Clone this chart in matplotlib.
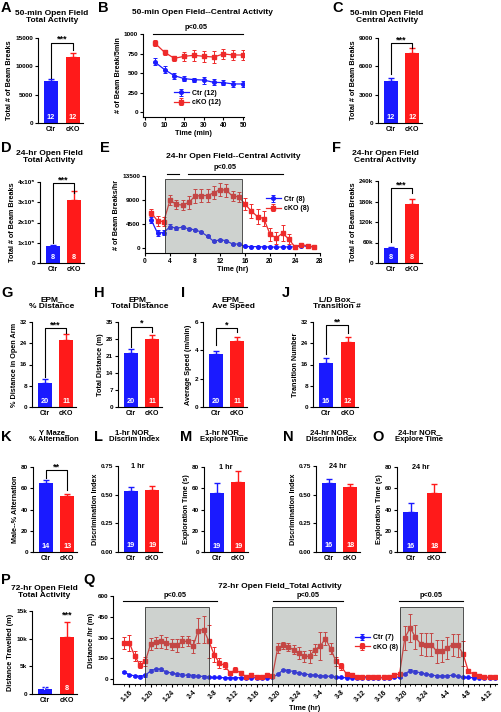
import numpy as np
import matplotlib
matplotlib.use('Agg')
import matplotlib.pyplot as plt
from matplotlib.patches import Rectangle

# ---------------- data ----------------
groups = ['Ctr', 'cKO']

A_mean = [7350, 11650]; A_sem = [470, 760]; A_n = [12, 12]
C_mean = [4450, 7410]; C_sem = [350, 560]; C_n = [12, 12]
D_mean = [85000, 313000]; D_sem = [4500, 42000]; D_n = [8, 8]
F_mean = [43500, 172000]; F_sem = [3000, 16500]; F_n = [8, 8]
G_mean = [9.2, 25.1]; G_sem = [1.25, 2.3]; G_n = [20, 11]
H_mean = [22.4, 27.9]; H_sem = [1.4, 1.8]; H_n = [20, 11]
I_mean = [3.74, 4.67]; I_sem = [0.24, 0.26]; I_n = [20, 11]
J_mean = [16.7, 24.5]; J_sem = [1.7, 1.8]; J_n = [16, 12]
K_mean = [64.9, 52.7]; K_sem = [2.5, 2.2]; K_n = [14, 13]
L_mean = [0.535, 0.54]; L_sem = [0.035, 0.032]; L_n = [19, 19]
M_mean = [56.0, 66.0]; M_sem = [8.7, 10.3]; M_n = [19, 19]
N_mean = [0.604, 0.563]; N_sem = [0.032, 0.032]; N_n = [16, 18]
O_mean = [38.0, 56.0]; O_sem = [7.8, 7.8]; O_n = [16, 18]
P_mean = [960, 10340]; P_sem = [250, 2700]; P_n = [7, 8]

B_time = [5, 10, 15, 20, 25, 30, 35, 40, 45, 50]
B_ctr = [643, 545, 468, 430, 417, 412, 383, 379, 362, 362]
B_ctr_sem = [45, 45, 40, 35, 25, 45, 40, 35, 35, 40]
B_cko = [885, 766, 689, 715, 728, 715, 706, 745, 732, 732]
B_cko_sem = [40, 30, 30, 60, 70, 70, 80, 60, 70, 70]

E_time = [1, 2, 3, 4, 5, 6, 7, 8, 9, 10, 11, 12, 13, 14, 15, 16, 17, 18, 19, 20,
          21, 22, 23, 24, 25, 26, 27]
E_ctr = [5260, 2800, 2900, 4000, 3700, 3900, 3600, 3400, 3000, 2200, 1240, 1550, 1360,
         740, 740, 310, 250, 250, 200, 200, 150, 200, 200, 200, 430, 300, 200]
E_ctr_sem = [600, 500, 400, 500, 300, 250, 200, 200, 200, 200, 200, 150, 150, 100, 100,
             80, 80, 80, 80, 80, 80, 80, 80, 80, 100, 80, 60]
E_cko = [6620, 5080, 4950, 8980, 8170, 8050, 8540, 9720, 9840, 9840, 10340, 10960, 10830,
         9720, 9600, 8230, 6930, 5880, 5510, 2600, 1860, 2790, 1670, 190, 620, 430, 190]
E_cko_sem = [600, 900, 900, 1000, 900, 1000, 1200, 1300, 1200, 1200, 1200, 1200, 1200,
             1000, 900, 1100, 1300, 1400, 1400, 1200, 1100, 1500, 1000, 300, 400, 300, 200]

Q_time = list(range(15, 86))
Q_cko = [261, 261, 165, 104, 128,
         254, 266, 273, 261, 249, 244, 273, 273, 237, 351, 358, 273,
         177, 116, 99, 44, 68, 44, 19, 31, 19, 19, 27, 24,
         225, 244, 230, 213, 189, 165, 165, 213, 237, 293, 220, 128,
         92, 36, 31, 19, 19, 19, 12, 12, 12, 12, 31, 36,
         298, 370, 303, 254, 249, 249, 201, 201, 225, 249, 244, 182,
         56, 36, 24, 19, 12, 12]
Q_cko_sem = [45, 55, 35, 25, 30,
             45, 40, 45, 45, 40, 45, 40, 35, 45, 90, 100, 120,
             55, 38, 25, 12, 18, 12, 8, 10, 8, 8, 10, 8,
             35, 25, 30, 35, 40, 40, 45, 40, 100, 50, 40, 30,
             25, 12, 10, 8, 8, 6, 6, 6, 6, 6, 10, 10,
             85, 100, 85, 80, 85, 85, 85, 80, 80, 80, 85, 90,
             15, 10, 8, 6, 6, 6]
Q_ctr = [51, 31, 24, 19, 27,
         60, 72, 70, 52, 44, 36, 31, 27, 24, 22, 19, 15,
         12, 12, 10, 10, 10, 10, 10, 10, 10, 10, 10, 12,
         35, 65, 62, 55, 45, 38, 32, 28, 24, 22, 20, 15,
         12, 10, 10, 10, 10, 10, 10, 10, 10, 10, 12, 15,
         38, 62, 55, 45, 38, 30, 24, 22, 24, 28, 20, 15,
         12, 10, 10, 10, 10, 10]
Q_ctr_sem = [8] * 5 + [10] * 12 + [4] * 12 + [8] * 12 + [4] * 12 + [8] * 12 + [4] * 6
Q_ticks = [16, 20, 24, 28, 32, 36, 40, 44, 48, 52, 56, 60, 64, 68, 72, 76, 80, 84]
Q_ticklabels = ['1-16', '1-20', '1-24', '2-4', '2-8', '2-12', '2-16', '2-20', '2-24',
                '3-4', '3-8', '3-12', '3-16', '3-20', '3-24', '4-4', '4-8', '4-12']

# ---------------- style ----------------
plt.rcParams['font.family'] = ['Liberation Sans', 'DejaVu Sans']
plt.rcParams['font.weight'] = 'bold'
plt.rcParams['axes.labelweight'] = 'bold'
plt.rcParams['axes.linewidth'] = 0.8

W, H = 501, 712
fig = plt.figure(figsize=(W / 100, H / 100), dpi=100)

BLUE = '#1a1aff'
RED = '#ff1a1a'
LRED = '#ee2a2a'
YT = 4.6
XT = 5.0
YL = 5.2
TT = 6.0


def add_ax(l, t, r, b):
    ax = fig.add_axes([l / W, 1 - b / H, (r - l) / W, (b - t) / H])
    for s in ['top', 'right']:
        ax.spines[s].set_visible(False)
    ax.tick_params(length=2.3, width=0.8, pad=1.2, labelsize=YT)
    return ax


def ftext(x, y, s, **kw):
    fig.text(x / W, 1 - y / H, s, **kw)


def title(x, y, s, size=TT):
    ftext(x, y, s, ha='center', va='center', fontsize=size, fontweight='bold', linespacing=1.1)


def letter(x, y, s):
    ftext(x, y, s, ha='left', va='top', fontsize=10.5, fontweight='bold')


def bar_panel(rect, means, sems, ns, ymax, yticks, yticklabels, ylabel,
              sig=None, stars=None, note=None, note_x=0.5):
    ax = add_ax(*rect)
    x = np.arange(len(groups))
    cols = [BLUE, RED]
    ax.bar(x, means, width=0.64, color=cols, zorder=2)
    for xi, m, e, c in zip(x, means, sems, cols):
        ax.errorbar(xi, m, yerr=[[0], [e]], color=c, capsize=2.4, elinewidth=1.0,
                    capthick=1.0, zorder=1)
    ax.set_xlim(-0.58, 1.45)
    ax.set_ylim(0, ymax)
    ax.set_yticks(yticks)
    ax.set_yticklabels(yticklabels)
    ax.set_xticks(x)
    ax.set_xticklabels(groups, fontsize=XT)
    ax.tick_params(axis='x', length=0, pad=2)
    ax.set_ylabel(ylabel, fontsize=YL, labelpad=1.5)
    for xi, n in zip(x, ns):
        ax.text(xi, 0.07, str(n), transform=ax.get_xaxis_transform(), color='white',
                ha='center', va='center', fontsize=5.3, fontweight='bold', zorder=3)
    if sig is not None:
        yb, yl, yr = sig
        ax.plot([0, 0, 1, 1], [yl, yb, yb, yr], color='k', lw=0.8, clip_on=False)
        ax.text(0.5, yb + ymax * 0.01, stars, ha='center', va='baseline', fontsize=6.5,
                fontweight='bold', clip_on=False)
    if note is not None:
        ax.text(note_x, 0.99, note, transform=ax.transAxes, ha='center', va='center',
                fontsize=5.2, fontweight='bold')
    return ax


# ---------------- row 1 ----------------
letter(1, 1, 'A')
title(52, 17, '50-min Open Field\nTotal Activity')
bar_panel((38, 38, 83, 123), A_mean, A_sem, A_n, 15000, [0, 5000, 10000, 15000],
          ['0', '5000', '10000', '15000'], 'Total # of Beam Breaks',
          sig=(14170, 7950, 12900), stars='***')

letter(98, 1, 'B')
title(202, 12, '50-min Open Field--Central Activity')
axB = add_ax(143, 34, 244, 117)
axB.errorbar(B_time, B_ctr, yerr=B_ctr_sem, color=BLUE, marker='o', ms=2.6, lw=0.9,
             capsize=1.4, elinewidth=0.7, capthick=0.7, label='Ctr (12)')
axB.errorbar(B_time, B_cko, yerr=B_cko_sem, color=LRED, marker='s', ms=2.6, lw=0.9,
             capsize=1.4, elinewidth=0.7, capthick=0.7, label='cKO (12)')
axB.set_xlim(-1, 50.5)
axB.set_ylim(-60, 1000)
axB.set_yticks([0, 250, 500, 750, 1000])
axB.set_xticks([0, 10, 20, 30, 40, 50])
axB.tick_params(axis='x', labelsize=4.8)
axB.set_xlabel('Time (min)', fontsize=YL, labelpad=1)
axB.set_ylabel('# of Beam Break/5min', fontsize=YL, labelpad=1.5)
axB.plot([4, 50], [1000, 1000], color='k', lw=0.8, clip_on=False)
axB.text(26, 1040, 'p<0.05', ha='center', va='bottom', fontsize=5.3, fontweight='bold')
axB.legend(loc='center left', bbox_to_anchor=(0.27, 0.23), frameon=False, fontsize=5,
           handlelength=2.2, handletextpad=0.4, borderpad=0, labelspacing=0.35)

letter(332, 1, 'C')
title(387, 17, '50-min Open Field\nCentral Activity')
bar_panel((378, 38, 422, 123), C_mean, C_sem, C_n, 9000, [0, 3000, 6000, 9000],
          ['0', '3000', '6000', '9000'], 'Total # of Beam Breaks',
          sig=(8470, 5190, 7940), stars='***')

# ---------------- row 2 ----------------
letter(1, 141, 'D')
title(49, 157, '24-hr Open Field\nTotal Activity')
bar_panel((40, 182, 84, 263), D_mean, D_sem, D_n, 400000,
          [0, 100000, 200000, 300000, 400000],
          ['0', '1x10⁵', '2x10⁵', '3x10⁵', '4x10⁵'], 'Total # of Beam Breaks',
          sig=(395000, 99000, 346000), stars='***')

letter(100, 141, 'E')
title(233, 156, '24-hr Open Field--Central Activity')
axE = add_ax(145, 176, 320, 253)
axE.errorbar(E_time, E_ctr, yerr=E_ctr_sem, color=BLUE, marker='o', ms=2.6, lw=0.9,
             capsize=1.4, elinewidth=0.7, capthick=0.7, label='Ctr (8)', zorder=2)
axE.errorbar(E_time, E_cko, yerr=E_cko_sem, color=LRED, marker='s', ms=2.6, lw=0.9,
             capsize=1.4, elinewidth=0.7, capthick=0.7, label='cKO (8)', zorder=2)
axE.add_patch(Rectangle((3.2, -940), 12.3, 13940, facecolor=(0.45, 0.5, 0.47),
                        alpha=0.35, edgecolor='none', zorder=3))
axE.add_patch(Rectangle((3.2, -940), 12.3, 13940, fill=False, edgecolor='#333333',
                        lw=0.6, zorder=3))
axE.set_xlim(0, 28)
axE.set_ylim(-940, 13500)
axE.set_yticks([0, 4500, 9000, 13500])
axE.set_xticks([0, 4, 8, 12, 16, 20, 24, 28])
axE.tick_params(axis='x', labelsize=4.8)
axE.set_xlabel('Time (hr)', fontsize=YL, labelpad=1)
axE.set_ylabel('# of Beam Breaks/hr', fontsize=YL, labelpad=1.5)
axE.plot([3.5, 5.5], [13900, 13900], color='k', lw=0.8, clip_on=False)
axE.plot([6.9, 22.0], [13900, 13900], color='k', lw=0.8, clip_on=False)
axE.text(12.8, 14400, 'p<0.05', ha='center', va='bottom', fontsize=5.3, fontweight='bold')
axE.legend(loc='center left', bbox_to_anchor=(0.67, 0.64), frameon=False, fontsize=5,
           handlelength=2.2, handletextpad=0.4, borderpad=0, labelspacing=0.35)

letter(332, 141, 'F')
title(385, 157, '24-hr Open Field\nCentral Activity')
bar_panel((378, 181, 422, 263), F_mean, F_sem, F_n, 240000,
          [0, 60000, 120000, 180000, 240000],
          ['0', '60k', '120k', '180k', '240k'], 'Total # of Beam Breaks',
          sig=(219000, 61000, 205000), stars='***')

# ---------------- row 3 ----------------
letter(1, 286, 'G')
title(52, 303, 'EPM_\n% Distance')
bar_panel((32, 322, 76, 407), G_mean, G_sem, G_n, 32, [0, 8, 16, 24, 32],
          ['0', '8', '16', '24', '32'], '% Distance in Open Arm',
          sig=(29.7, 11.3, 27.9), stars='***')

letter(94, 286, 'H')
title(140, 303, 'EPM_\nTotal Distance')
bar_panel((118, 322, 162, 407), H_mean, H_sem, H_n, 35, [0, 7, 14, 21, 28, 35],
          ['0', '7', '14', '21', '28', '35'], 'Total Distance (m)',
          sig=(33.0, 24.7, 30.9), stars='*')

letter(181, 286, 'I')
title(233, 303, 'EPM_\nAve Speed')
bar_panel((203, 322, 247, 407), I_mean, I_sem, I_n, 6, [0, 2, 4, 6],
          ['0', '2', '4', '6'], 'Average Speed (m/min)',
          sig=(5.58, 4.38, 5.3), stars='*')

letter(282, 286, 'J')
title(337, 303, 'L/D Box_\nTransition #')
bar_panel((313, 322, 358, 407), J_mean, J_sem, J_n, 32, [0, 8, 16, 24, 32],
          ['0', '8', '16', '24', '32'], 'Transition Number',
          sig=(30.9, 20.0, 27.9), stars='**')

# ---------------- row 4 ----------------
T4 = 5.6
letter(1, 430, 'K')
title(54, 436, 'Y Maze_\n% Alternation', T4)
bar_panel((33, 467, 77, 552), K_mean, K_sem, K_n, 80, [0, 20, 40, 60, 80],
          ['0', '20', '40', '60', '80'], 'Male--% Alternation',
          sig=(77.0, 69.6, 58.4), stars='**')

letter(94, 430, 'L')
title(134, 436, '1-hr NOR_\nDiscrim Index', T4)
bar_panel((118, 466, 162, 552), L_mean, L_sem, L_n, 0.75, [0, 0.25, 0.5, 0.75],
          ['0.00', '0.25', '0.50', '0.75'], 'Discrimination Index',
          note='1 hr', note_x=0.45)

letter(180, 430, 'M')
title(224, 436, '1-hr NOR_\nExplore Time', T4)
bar_panel((204, 467, 248, 552), M_mean, M_sem, M_n, 80, [0, 20, 40, 60, 80],
          ['0', '20', '40', '60', '80'], 'Exploration Time (s)', note='1 hr')

letter(283, 430, 'N')
title(331, 436, '24-hr NOR_\nDiscrim Index', T4)
bar_panel((316, 466, 360, 552), N_mean, N_sem, N_n, 0.75, [0, 0.25, 0.5, 0.75],
          ['0.00', '0.25', '0.50', '0.75'], 'Discrimination Index', note='24 hr')

letter(372, 430, 'O')
title(419, 436, '24-hr NOR_\nExplore Time', T4)
bar_panel((397, 467, 445, 552), O_mean, O_sem, O_n, 80, [0, 20, 40, 60, 80],
          ['0', '20', '40', '60', '80'], 'Exploration Time (s)', note='24 hr')

# ---------------- row 5 ----------------
letter(1, 573, 'P')
title(44, 592, '72-hr Open Field\nTotal Activity')
axP = bar_panel((32, 611, 77, 694), P_mean, P_sem, P_n, 15000, [0, 5000, 10000, 15000],
                ['0', '5k', '10k', '15k'], 'Distance Travelled (m)')
axP.text(1, 13900, '***', ha='center', va='baseline', fontsize=6.5, fontweight='bold')

letter(83, 573, 'Q')
title(280, 587, '72-hr Open Field_Total Activity')
axQ = add_ax(113, 596, 497, 684)
axQ.errorbar(Q_time, Q_ctr, yerr=Q_ctr_sem, color=BLUE, marker='o', ms=2.4, lw=0.9,
             capsize=1.2, elinewidth=0.7, capthick=0.7, label='Ctr (7)', zorder=2)
axQ.errorbar(Q_time, Q_cko, yerr=Q_cko_sem, color=LRED, marker='s', ms=2.4, lw=0.9,
             capsize=1.2, elinewidth=0.7, capthick=0.7, label='cKO (8)', zorder=2)
for s0 in [19, 43, 67]:
    axQ.add_patch(Rectangle((s0, -35), 12, 555, facecolor=(0.45, 0.5, 0.47),
                            alpha=0.35, edgecolor='none', zorder=3))
    axQ.add_patch(Rectangle((s0, -35), 12, 555, fill=False, edgecolor='#333333',
                            lw=0.6, zorder=3))
for x0, x1, xt in [(14.8, 32.5, 24.6), (43.1, 56.3, 49.7), (66.9, 79.0, 73.0)]:
    axQ.plot([x0, x1], [561, 561], color='k', lw=0.8, clip_on=False)
    axQ.text(xt, 575, 'p<0.05', ha='center', va='bottom', fontsize=5.3, fontweight='bold')
axQ.set_xlim(12.9, 85.4)
axQ.set_ylim(-35, 600)
axQ.set_yticks([0, 150, 300, 450, 600])
axQ.set_xticks(Q_ticks)
axQ.set_xticklabels(Q_ticklabels, rotation=45, ha='right', rotation_mode='anchor',
                    fontsize=4.8)
axQ.set_xticks(Q_time, minor=True)
axQ.tick_params(axis='x', which='minor', length=1.5, width=0.6)
axQ.set_xlabel('Time (hr)', fontsize=YL, labelpad=1)
axQ.set_ylabel('Distance /hr (m)', fontsize=YL, labelpad=1.5)
axQ.legend(loc='center left', bbox_to_anchor=(0.62, 0.47), frameon=False, fontsize=5,
           handlelength=2.2, handletextpad=0.4, borderpad=0, labelspacing=0.35)

fig.savefig('out.png', dpi=100)
